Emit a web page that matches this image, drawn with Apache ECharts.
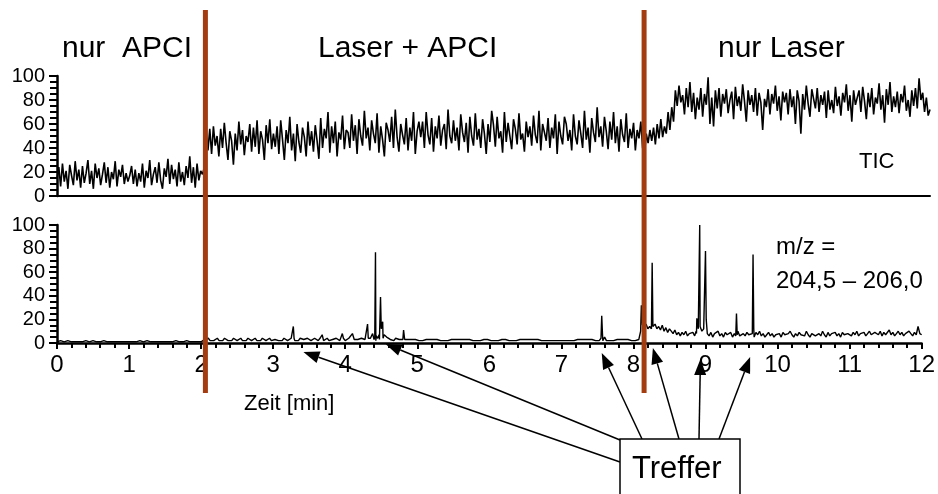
<!DOCTYPE html>
<html>
<head>
<meta charset="utf-8">
<script src="https://cdn.jsdelivr.net/npm/echarts@6/dist/echarts.min.js"></script>
<style>
  html, body { margin: 0; padding: 0; background: #fff; }
  #chart { width: 938px; height: 494px; }
</style>
</head>
<body>
<div id="chart"></div>
<script>
// Zeitachse [min], Abtastung der Spuren
const timeStep = 0.025
const timeMax = 12

// TIC (relative Intensitaet), eine Zeile = 1 min
const ticValues = [
  14, 24, 8, 27, 12, 21, 6, 26, 17, 9, 29, 13, 22, 7, 25, 11, 19, 30, 10, 21, 6, 27, 15, 23, 9, 18, 28, 11, 24, 7, 20, 14, 29, 8, 22, 16, 26, 10, 19, 12,
  17, 25, 10, 22, 8, 19, 12, 27, 7, 21, 15, 30, 9, 18, 24, 11, 28, 13, 6, 23, 16, 31, 10, 26, 14, 22, 8, 28, 12, 20, 9, 25, 15, 33, 11, 24, 7, 27, 13, 21,
  18, 24, 53, 38, 56, 35, 58, 42, 50, 33, 56, 40, 61, 44, 30, 54, 46, 26, 52, 38, 62, 43, 55, 34, 50, 45, 60, 37, 57, 41, 63, 35, 54, 47, 30, 59, 44, 64, 39, 52,
  41, 58, 35, 63, 47, 30, 55, 44, 66, 38, 52, 29, 60, 45, 36, 57, 49, 33, 62, 42, 54, 37, 59, 46, 31, 65, 40, 56, 48, 70, 36, 58, 44, 62, 33, 53, 47, 67, 39, 55,
  53, 40, 68, 46, 59, 35, 64, 50, 42, 71, 48, 57, 38, 63, 52, 44, 69, 36, 58, 47, 33, 61, 55, 45, 66, 40, 72, 49, 37, 60, 51, 43, 65, 38, 57, 46, 70, 35, 54, 62,
  49, 62, 40, 70, 51, 43, 65, 37, 58, 48, 67, 42, 55, 60, 39, 72, 50, 44, 63, 46, 57, 38, 68, 53, 45, 61, 36, 66, 50, 42, 69, 47, 56, 40, 64, 52, 35, 60, 45, 71,
  59, 41, 66, 48, 54, 36, 70, 45, 61, 50, 39, 64, 56, 43, 69, 47, 52, 37, 62, 49, 58, 42, 67, 51, 44, 71, 38, 60, 53, 46, 65, 40, 57, 48, 68, 35, 62, 50, 43, 66,
  60, 46, 55, 38, 68, 50, 43, 63, 52, 40, 71, 47, 57, 36, 65, 53, 45, 74, 49, 58, 41, 66, 54, 39, 62, 47, 70, 44, 58, 37, 64, 51, 45, 69, 40, 56, 48, 61, 38, 55,
  48, 62, 40, 35, 52, 44, 55, 46, 57, 43, 60, 48, 64, 49, 58, 52, 70, 55, 74, 62, 88, 75, 92, 78, 84, 68, 90, 74, 95, 70, 86, 64, 82, 72, 90, 66, 85, 76, 99, 60,
  82, 58, 88, 73, 90, 66, 85, 77, 89, 69, 80, 87, 64, 91, 75, 83, 71, 93, 79, 62, 88, 76, 84, 70, 90, 67, 86, 78, 55, 81, 74, 89, 68, 85, 77, 92, 71, 83, 63, 87,
  78, 86, 68, 89, 74, 83, 60, 88, 79, 52, 85, 72, 92, 77, 66, 89, 81, 73, 90, 70, 84, 76, 87, 65, 88, 72, 80, 69, 91, 75, 83, 67, 86, 78, 93, 71, 84, 62, 88, 76,
  75, 88, 70, 91, 79, 64, 86, 74, 90, 68, 82, 77, 94, 72, 84, 61, 89, 76, 95, 70, 83, 74, 87, 69, 85, 78, 92, 71, 80, 66, 88, 75, 90, 73, 98, 80, 86, 70, 82, 67,
  72
]

// m/z 204,5 - 206,0 Grundlinie
const mzBase = [
  1, 1, 2, 1, 1, 1, 2, 1, 1, 1, 1, 2, 1, 1, 1, 1, 2, 1, 1, 1, 2, 1, 1, 1, 1, 1, 2, 1, 1, 1, 1, 2, 1, 1, 1, 1, 1, 2, 1, 1,
  1, 2, 1, 1, 1, 1, 2, 1, 1, 1, 2, 1, 1, 1, 1, 2, 1, 1, 1, 1, 1, 2, 1, 1, 1, 1, 2, 1, 1, 1, 1, 1, 2, 1, 1, 1, 1, 2, 1, 1,
  1, 2, 3, 2, 4, 2, 3, 2, 3, 4, 2, 3, 2, 4, 3, 2, 3, 2, 4, 3, 2, 3, 4, 2, 3, 2, 4, 3, 2, 3, 4, 2, 3, 2, 4, 3, 2, 3, 4, 2,
  2, 3, 4, 2, 3, 2, 4, 3, 2, 3, 4, 3, 2, 3, 2, 4, 3, 3, 2, 4, 3, 2, 3, 4, 3, 2, 4, 3, 2, 3, 4, 2, 3, 3, 2, 4, 3, 2, 3, 4,
  2, 3, 4, 3, 2, 3, 4, 3, 2, 4, 3, 3, 4, 5, 4, 3, 3, 2, 4, 3, 5, 4, 6, 5, 4, 3, 3, 2, 4, 3, 3, 2, 3, 3, 2, 3, 2, 3, 2, 3,
  3, 2, 3, 2, 3, 3, 2, 3, 2, 3, 2, 3, 3, 2, 3, 2, 3, 2, 3, 3, 2, 3, 2, 3, 2, 3, 2, 3, 2, 3, 3, 2, 3, 2, 3, 2, 3, 3, 2, 3,
  3, 2, 3, 2, 3, 2, 2, 3, 2, 3, 3, 2, 3, 2, 3, 2, 3, 3, 2, 3, 2, 3, 2, 3, 2, 3, 2, 3, 3, 2, 3, 2, 3, 2, 3, 2, 3, 2, 3, 2,
  3, 2, 3, 2, 3, 2, 3, 2, 3, 3, 2, 3, 2, 3, 2, 3, 2, 3, 3, 2, 3, 2, 3, 2, 3, 2, 3, 2, 3, 2, 3, 3, 2, 3, 2, 3, 2, 3, 2, 2,
  2, 2, 2, 3, 20, 15, 11, 16, 12, 14, 10, 13, 16, 12, 14, 11, 15, 10, 13, 9, 12, 10, 8, 11, 7, 9, 6, 9, 7, 10, 6, 8, 7, 9, 6, 8, 12, 14, 10, 12,
  14, 8, 6, 9, 5, 8, 7, 10, 6, 8, 5, 9, 7, 6, 9, 5, 8, 7, 10, 6, 5, 8, 6, 9, 7, 6, 8, 5, 9, 7, 10, 6, 8, 5, 7, 9, 6, 8, 5, 7,
  6, 8, 5, 9, 7, 6, 8, 10, 7, 5, 8, 6, 9, 7, 8, 6, 10, 7, 5, 8, 9, 6, 7, 8, 6, 10, 7, 5, 9, 6, 8, 7, 9, 6, 8, 5, 9, 7, 6, 8,
  8, 6, 9, 7, 10, 6, 8, 7, 9, 6, 8, 10, 7, 6, 9, 8, 7, 10, 6, 9, 7, 8, 11, 7, 9, 6, 8, 10, 7, 9, 6, 8, 7, 10, 8, 6, 9, 7, 11, 8,
  7
]

// einzelne Peaks [Zeit, Intensitaet]
const mzPeaks = [
  [3.27, 3], [3.28, 14], [3.29, 4],
  [3.68, 7], [3.96, 8], [4.10, 8],
  [4.30, 3], [4.31, 16], [4.32, 4], [4.38, 8],
  [4.41, 5], [4.42, 77], [4.43, 6],
  [4.47, 7], [4.49, 39], [4.50, 12], [4.52, 18], [4.54, 7],
  [4.81, 11],
  [7.55, 4], [7.56, 23], [7.57, 8], [7.60, 5],
  [8.10, 10], [8.11, 32], [8.13, 18],
  [8.25, 12], [8.26, 68], [8.27, 14],
  [8.87, 10], [8.88, 21], [8.91, 12], [8.92, 100], [8.93, 14], [8.95, 10],
  [8.99, 12], [9.00, 78], [9.01, 20], [9.03, 9],
  [9.42, 6], [9.43, 25], [9.44, 7],
  [9.65, 8], [9.66, 75], [9.67, 12],
  [11.95, 14]
]

// Phasengrenzen (Laser an / APCI aus) und Treffer
const phaseBounds = [2.04, 8.07]
const hitTimes = [3.42, 4.56, 7.56, 8.27, 8.93, 9.62]
const hitTipY = [352, 344, 353, 348, 359, 357]
const hitFrom = [[620, 462], [620, 440], [642, 439], [679, 439], [699, 439], [719, 439]]

const FONT = '"Liberation Sans", Arial, sans-serif'
const BROWN = '#a33c0e'

const ticData = ticValues.map((v, i) => [+(i * timeStep).toFixed(3), v])
const mzData = mzBase
  .map((v, i) => [+(i * timeStep).toFixed(3), v])
  .filter(p => !mzPeaks.some(q => Math.abs(q[0] - p[0]) < 0.004))
  .concat(mzPeaks)
  .sort((a, b) => a[0] - b[0])

function yAxisCfg(idx) {
  return {
    gridIndex: idx,
    type: 'value',
    min: 0,
    max: 100,
    interval: 20,
    axisLine: { show: true, lineStyle: { color: '#000', width: 2.5 } },
    axisTick: { show: true, length: 8, lineStyle: { color: '#000', width: 2 } },
    minorTick: { show: true, splitNumber: 4, length: 7, lineStyle: { color: '#000', width: 2 } },
    axisLabel: { fontSize: 20, color: '#000', margin: 12, fontFamily: FONT },
    splitLine: { show: false }
  }
}

const chart = echarts.init(document.getElementById('chart'))

chart.setOption({
  animation: false,
  backgroundColor: '#fff',
  textStyle: { fontFamily: FONT },
  grid: [
    { left: 57, right: 8, top: 76, height: 120 },
    { left: 57, right: 8, top: 225, height: 118 }
  ],
  xAxis: [
    {
      gridIndex: 0,
      type: 'value',
      min: 0,
      max: timeMax,
      axisLine: { lineStyle: { color: '#000', width: 2 } },
      axisTick: { show: false },
      axisLabel: { show: false },
      splitLine: { show: false }
    },
    {
      gridIndex: 1,
      type: 'value',
      min: 0,
      max: timeMax,
      interval: 1,
      axisLine: { show: true, lineStyle: { color: '#000', width: 2.5 } },
      axisTick: { show: true, length: 6, lineStyle: { color: '#000', width: 2 } },
      minorTick: { show: true, splitNumber: 5, length: 5, lineStyle: { color: '#000', width: 2 } },
      axisLabel: { fontSize: 24, color: '#000', margin: 10, fontFamily: FONT },
      splitLine: { show: false }
    }
  ],
  yAxis: [yAxisCfg(0), yAxisCfg(1)],
  series: [
    {
      name: 'TIC',
      type: 'line',
      xAxisIndex: 0,
      yAxisIndex: 0,
      data: ticData,
      showSymbol: false,
      lineStyle: { color: '#000', width: 1.6 }
    },
    {
      name: 'm/z',
      type: 'line',
      xAxisIndex: 1,
      yAxisIndex: 1,
      data: mzData,
      showSymbol: false,
      lineStyle: { color: '#000', width: 1.4 }
    }
  ]
})

function label(text, x, y, size) {
  return {
    type: 'text',
    z: 120,
    style: {
      text: text, x: x, y: y,
      font: size + 'px ' + FONT,
      fill: '#000',
      textAlign: 'left', align: 'left',
      textVerticalAlign: 'middle', verticalAlign: 'middle'
    }
  }
}

function arrow(from, tip) {
  const dx = tip[0] - from[0]
  const dy = tip[1] - from[1]
  const len = Math.sqrt(dx * dx + dy * dy)
  const ux = dx / len
  const uy = dy / len
  const hl = 16
  const hw = 6
  const bx = tip[0] - ux * hl
  const by = tip[1] - uy * hl
  return [
    {
      type: 'line', z: 100,
      shape: { x1: from[0], y1: from[1], x2: bx, y2: by },
      style: { stroke: '#000', lineWidth: 1.5 }
    },
    {
      type: 'polygon', z: 100,
      shape: { points: [[tip[0], tip[1]], [bx - uy * hw, by + ux * hw], [bx + uy * hw, by - ux * hw]] },
      style: { fill: '#000' }
    }
  ]
}

const graphics = []
phaseBounds.forEach(t => {
  const px = chart.convertToPixel({ xAxisIndex: 0 }, t)
  graphics.push({
    type: 'line', z: 110,
    shape: { x1: px, y1: 10, x2: px, y2: 393 },
    style: { stroke: BROWN, lineWidth: 5 }
  })
})
hitTimes.forEach((t, i) => {
  const px = chart.convertToPixel({ xAxisIndex: 1 }, t)
  arrow(hitFrom[i], [px, hitTipY[i]]).forEach(g => graphics.push(g))
})
graphics.push({
  type: 'rect', z: 105,
  shape: { x: 620, y: 439, width: 120, height: 70 },
  style: { fill: '#fff', stroke: '#000', lineWidth: 1.5 }
})
graphics.push(label('nur  APCI', 62, 49, 30))
graphics.push(label('Laser + APCI', 318, 49, 30))
graphics.push(label('nur Laser', 718, 49, 30))
graphics.push(label('TIC', 859, 162, 22))
graphics.push(label('m/z =', 776, 247, 24))
graphics.push(label('204,5 \u2013 206,0', 776, 281, 24))
graphics.push(label('Zeit [min]', 244, 404, 22))
graphics.push(label('Treffer', 632, 469, 31))

chart.setOption({ graphic: graphics })
</script>
</body>
</html>
